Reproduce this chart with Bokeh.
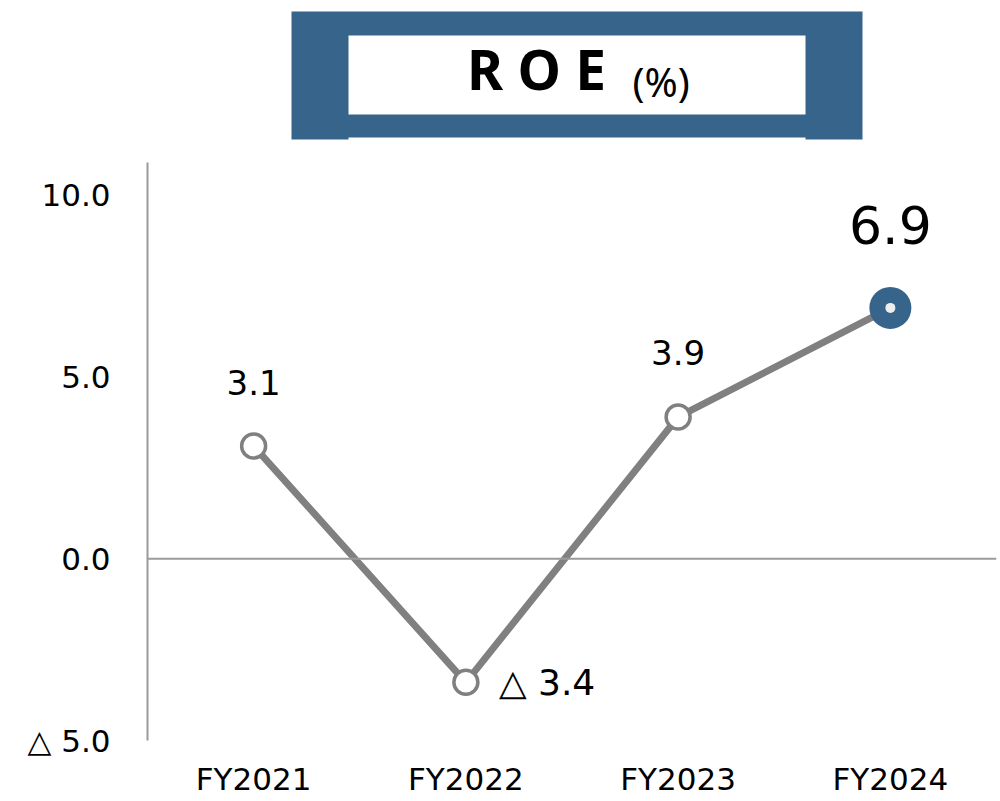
from bokeh.plotting import figure
from bokeh.models import ColumnDataSource, FactorRange, Range1d, Span, FixedTicker, LabelSet
from bokeh.layouts import column
from bokeh.core.properties import value
from bokeh.embed import file_html
from bokeh.resources import INLINE

# ---- data -------------------------------------------------------------
years = ["FY2021", "FY2022", "FY2023", "FY2024"]
roe = [3.1, -3.4, 3.9, 6.9]
y_ticks = [-5, 0, 5, 10]
y_tick_labels = ["△ 5.0", "0.0", "5.0", "10.0"]
title_main = "R O E"
title_unit = "(%)"

BLUE = "#36648a"
GRAY = "#808080"
AXIS_GRAY = "#9a9a9a"
FONT = "DejaVu Sans"

LEFT, RIGHT = 147, 4   # shared side borders, so both panels line up


def fmt(v):
    # negative values are written with a leading triangle
    return f"△ {abs(v):.1f}" if v < 0 else f"{v:.1f}"


# ---- header band: pixel coordinates across the full page width ----------
head = figure(width=1000, height=162, x_range=Range1d(LEFT, 1000 - RIGHT),
              y_range=Range1d(162, 0), output_backend="svg", toolbar_location=None,
              min_border_left=LEFT, min_border_right=RIGHT, min_border_top=0,
              min_border_bottom=0)
head.axis.visible = False
head.grid.visible = False
head.outline_line_color = None
head.quad(left=[291], right=[862], top=[11], bottom=[139], fill_color=BLUE, line_color=None)
head.quad(left=[348], right=[805], top=[35], bottom=[114], fill_color="white", line_color=None)
head.quad(left=[348], right=[805], top=[137], bottom=[140], fill_color="white", line_color=None)
head.text(x=[536], y=[68], text=[title_main], text_font=value("Noto Sans"),
          text_font_style="bold", text_font_size="55px", text_align="center",
          text_baseline="middle", text_color="black")
head.text(x=[632], y=[81], text=[title_unit], text_font=value("Noto Sans"),
          text_font_size="40px", text_align="left", text_baseline="middle",
          text_color="black")

# ---- main chart -------------------------------------------------------
p = figure(width=1000, height=639, x_range=FactorRange(*years, range_padding=0),
           y_range=Range1d(-5, 10.9), output_backend="svg", toolbar_location=None,
           min_border_left=LEFT, min_border_right=RIGHT, min_border_top=0,
           min_border_bottom=61)
p.grid.visible = False
p.outline_line_color = None

p.yaxis.ticker = FixedTicker(ticks=y_ticks)
p.yaxis.major_label_overrides = {t: lab for t, lab in zip(y_ticks, y_tick_labels)}
p.yaxis.axis_line_color = AXIS_GRAY
p.yaxis.axis_line_width = 2
p.yaxis.major_tick_line_color = None
p.yaxis.major_tick_out = 0
p.yaxis.major_tick_in = 0
p.yaxis.minor_tick_line_color = None
p.yaxis.major_label_standoff = 37
p.yaxis.major_label_text_font = FONT
p.yaxis.major_label_text_font_size = "31px"
p.yaxis.major_label_text_color = "black"

p.xaxis.axis_line_color = None
p.xaxis.major_tick_line_color = None
p.xaxis.major_tick_out = 0
p.xaxis.major_tick_in = 0
p.xaxis.minor_tick_line_color = None
p.xaxis.major_label_standoff = 20
p.xaxis.major_label_text_font = FONT
p.xaxis.major_label_text_font_size = "31px"
p.xaxis.major_label_text_color = "black"

p.add_layout(Span(location=0, dimension="width", line_color=AXIS_GRAY, line_width=2))

# ---- series -----------------------------------------------------------
src = ColumnDataSource(dict(year=years, roe=roe))
past = ColumnDataSource(dict(year=years[:-1], roe=roe[:-1]))
last = ColumnDataSource(dict(year=years[-1:], roe=roe[-1:], label=[fmt(roe[-1])]))
pos = ColumnDataSource(dict(year=[y for y, v in zip(years[:-1], roe[:-1]) if v >= 0],
                            roe=[v for v in roe[:-1] if v >= 0],
                            label=[fmt(v) for v in roe[:-1] if v >= 0]))
neg = ColumnDataSource(dict(year=[y for y, v in zip(years[:-1], roe[:-1]) if v < 0],
                            roe=[v for v in roe[:-1] if v < 0],
                            label=[fmt(v) for v in roe[:-1] if v < 0]))

p.line(x="year", y="roe", source=src, line_width=7, line_color=GRAY)
p.scatter(x="year", y="roe", source=past, size=24, fill_color="white",
          line_color=GRAY, line_width=3.5)
p.scatter(x="year", y="roe", source=last, size=42, fill_color=BLUE, line_color=None)
p.scatter(x="year", y="roe", source=last, size=10, fill_color="#eeeeee", line_color=None)

p.add_layout(LabelSet(x="year", y="roe", text="label", source=pos, y_offset=64,
                      text_align="center", text_baseline="middle",
                      text_font=value(FONT), text_font_size="34px", text_color="black"))
p.add_layout(LabelSet(x="year", y="roe", text="label", source=neg, x_offset=33,
                      text_align="left", text_baseline="middle",
                      text_font=value(FONT), text_font_size="36px", text_color="black"))
p.add_layout(LabelSet(x="year", y="roe", text="label", source=last, y_offset=83,
                      text_align="center", text_baseline="middle",
                      text_font=value(FONT), text_font_size="52px", text_color="black"))

layout = column(head, p, spacing=0)
open("out.html", "w").write(file_html(layout, INLINE))
